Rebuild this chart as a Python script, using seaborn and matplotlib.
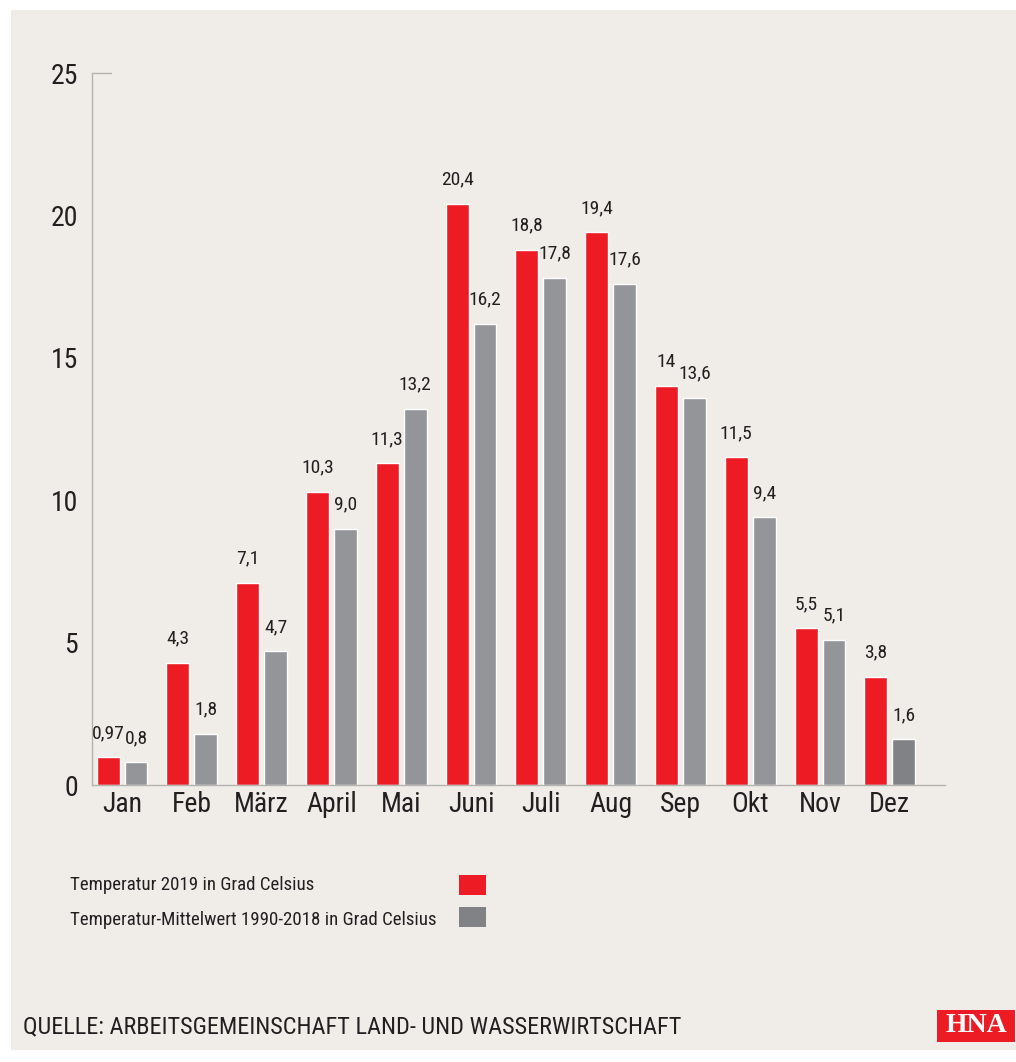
import matplotlib
matplotlib.use("Agg")
import matplotlib.pyplot as plt
from matplotlib.patches import Rectangle
import seaborn as sns
import pandas as pd

months = ["Jan", "Feb", "März", "April", "Mai", "Juni", "Juli", "Aug", "Sep", "Okt", "Nov", "Dez"]
temp_2019 = [0.97, 4.3, 7.1, 10.3, 11.3, 20.4, 18.8, 19.4, 14.0, 11.5, 5.5, 3.8]
temp_mean = [0.8, 1.8, 4.7, 9.0, 13.2, 16.2, 17.8, 17.6, 13.6, 9.4, 5.1, 1.6]
labels_2019 = ["0,97", "4,3", "7,1", "10,3", "11,3", "20,4", "18,8", "19,4", "14", "11,5", "5,5", "3,8"]
labels_mean = ["0,8", "1,8", "4,7", "9,0", "13,2", "16,2", "17,8", "17,6", "13,6", "9,4", "5,1", "1,6"]
series = ["Temperatur 2019 in Grad Celsius", "Temperatur-Mittelwert 1990-2018 in Grad Celsius"]
y_ticks = [0, 5, 10, 15, 20, 25]

RED = "#ED1C24"
GRAY = "#939598"
DARKGRAY = "#808285"
BG = "#F0EDE9"
TXT = "#231F20"

sns.set_theme(style="white")
plt.rcParams["font.family"] = ["Roboto Condensed", "Liberation Sans Narrow", "Roboto", "DejaVu Sans"]

df = pd.DataFrame({
    "Monat": months * 2,
    "Wert": temp_2019 + temp_mean,
    "Serie": [series[0]] * len(months) + [series[1]] * len(months),
})

W, H = 1016, 1062
fig = plt.figure(figsize=(W / 100, H / 100), dpi=100, facecolor="white")
bg = fig.add_axes([11 / W, 1 - 1050 / H, (1016 - 11) / W, (1050 - 10) / H], zorder=-10)
bg.set_facecolor(BG)
bg.set_xticks([])
bg.set_yticks([])
for s in bg.spines.values():
    s.set_visible(False)

ax = fig.add_axes([92 / W, 1 - 785 / H, (945 - 92) / W, (785 - 73) / H])
ax.set_facecolor("none")
sns.barplot(data=df, x="Monat", y="Wert", hue="Serie", order=months, hue_order=series,
            palette=[RED, GRAY], width=0.8, gap=0.18, legend=False, ax=ax, saturation=1)

# darker final mean bar
ax.containers[1][-1].set_facecolor(DARKGRAY)

ax.bar_label(ax.containers[0], labels=labels_2019, padding=11, fontsize=14, color=TXT)
ax.bar_label(ax.containers[1], labels=labels_mean, padding=11, fontsize=14, color=TXT)

ax.set_ylim(0, 25)
ax.set_xlim(-0.43, 11.79)
ax.set_yticks(y_ticks)
ax.set_yticklabels([str(t) for t in y_ticks], fontsize=20, color=TXT)
ax.set_xticks(range(len(months)))
ax.set_xticklabels(months, fontsize=20, color=TXT)
ax.tick_params(axis="y", length=0, pad=10)
ax.tick_params(axis="x", length=0, pad=4)
ax.set_xlabel("")
ax.set_ylabel("")
for s in ["top", "right"]:
    ax.spines[s].set_visible(False)
for s in ["left", "bottom"]:
    ax.spines[s].set_color("#B5B3B0")
    ax.spines[s].set_linewidth(1.0)
# short top marker at 25
ax.plot([-0.43, -0.16], [25, 25], color="#B5B3B0", lw=1.0, clip_on=False)

# legend
fig.text(70 / W, 1 - 885 / H, series[0], fontsize=13.6, color=TXT, va="center", ha="left")
fig.text(70 / W, 1 - 920 / H, series[1], fontsize=13.6, color=TXT, va="center", ha="left")
fig.patches.append(Rectangle((459 / W, 1 - 895 / H), 27 / W, 20 / H, transform=fig.transFigure,
                             facecolor=RED, edgecolor="none"))
fig.patches.append(Rectangle((459 / W, 1 - 927 / H), 27 / W, 20 / H, transform=fig.transFigure,
                             facecolor=DARKGRAY, edgecolor="none"))

# source
fig.text(23 / W, 1 - 1027 / H, "QUELLE: ARBEITSGEMEINSCHAFT LAND- UND WASSERWIRTSCHAFT",
         fontsize=17.5, color=TXT, va="center", ha="left")

# logo
fig.patches.append(Rectangle((937 / W, 1 - 1042 / H), 78 / W, 32 / H, transform=fig.transFigure,
                             facecolor=RED, edgecolor="none"))
fig.text(976 / W, 1 - 1026 / H, "HNA", fontsize=20, color="white", fontweight="bold",
         family=["Liberation Serif", "DejaVu Serif"], va="center", ha="center")

fig.savefig("out.png", dpi=100, facecolor="white")
